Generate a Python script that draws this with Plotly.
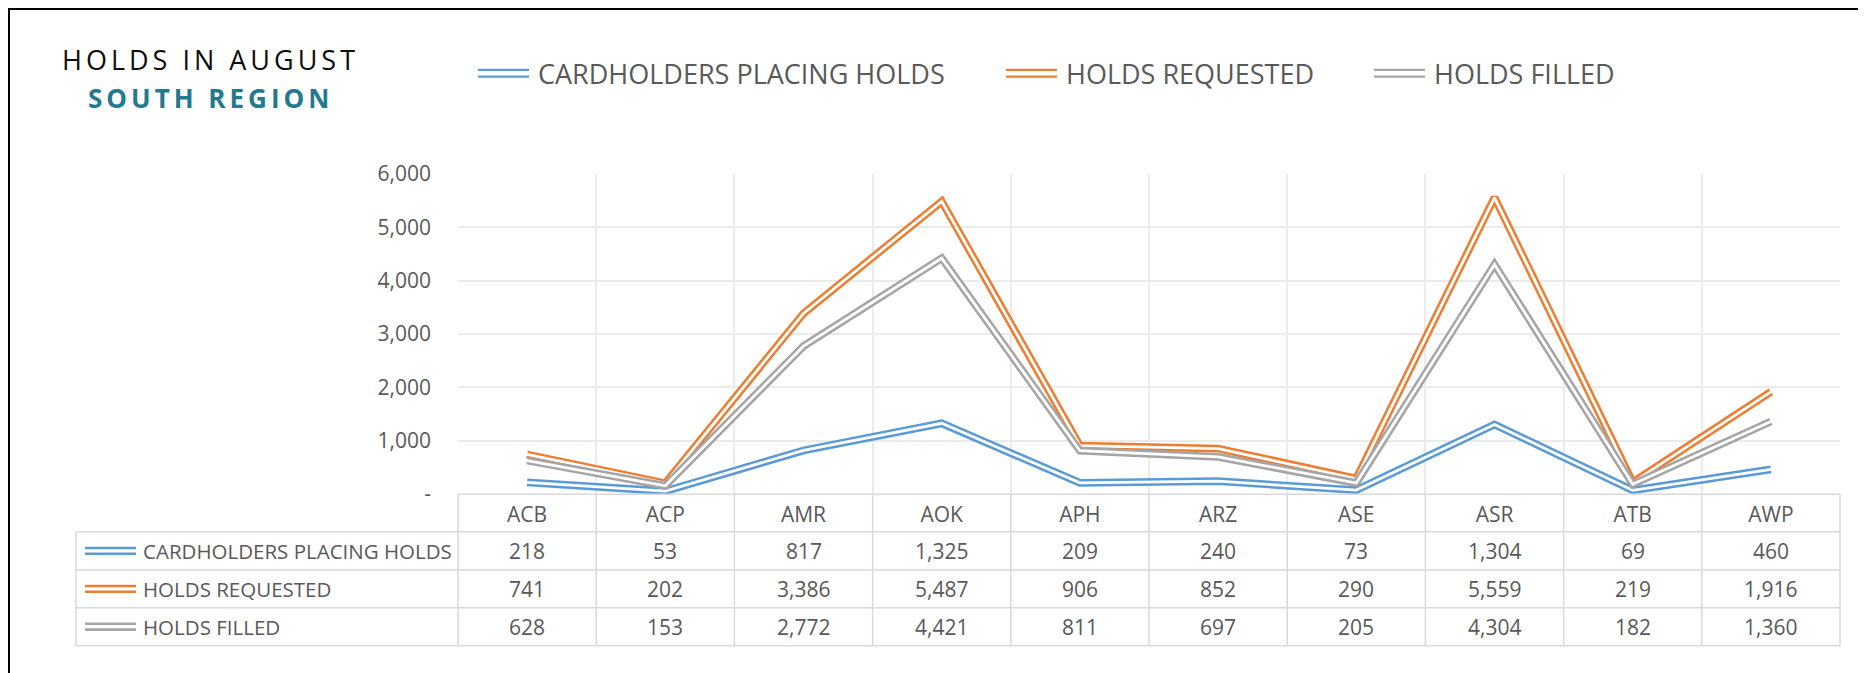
import plotly.graph_objects as go

# ---------------- data ----------------
categories = ["ACB", "ACP", "AMR", "AOK", "APH", "ARZ", "ASE", "ASR", "ATB", "AWP"]
series_names = ["CARDHOLDERS PLACING HOLDS", "HOLDS REQUESTED", "HOLDS FILLED"]
cardholders = [218, 53, 817, 1325, 209, 240, 73, 1304, 69, 460]
requested = [741, 202, 3386, 5487, 906, 852, 290, 5559, 219, 1916]
filled = [628, 153, 2772, 4421, 811, 697, 205, 4304, 182, 1360]
y_tick_values = [0, 1000, 2000, 3000, 4000, 5000, 6000]
y_tick_labels = ["-", "1,000", "2,000", "3,000", "4,000", "5,000", "6,000"]
title_line1 = "HOLDS IN AUGUST"
title_line2 = "SOUTH REGION"

series_values = [cardholders, requested, filled]
series_colors = ["#5B9BD5", "#ED7D31", "#A5A5A5"]

# ---------------- geometry ----------------
# the page body has an 8px default margin: figure origin sits at screen (8, 8)
OFF = 8
W, H = 1858, 665
L, T = 458 - OFF, 174 - OFF
PW, PH = 1382, 320
R = W - L - PW
B = H - T - PH
FONT = "Open Sans"
TXT = "#595959"
TABLE_LINE = "#D9D9D9"


def px(xs):
    """screen x -> paper x"""
    return (xs - OFF - L) / PW


def py(ys):
    """screen y -> paper y"""
    return (H - B - (ys - OFF)) / PH


fig = go.Figure()

# double lines: thick coloured line with thin white core
for name, vals, col in zip(series_names, series_values, series_colors):
    fig.add_trace(go.Scatter(x=categories, y=vals, mode="lines", name=name,
                             line=dict(color=col, width=7.8), showlegend=False,
                             hoverinfo="skip"))
    fig.add_trace(go.Scatter(x=categories, y=vals, mode="lines", name=name,
                             line=dict(color="white", width=2.8), showlegend=False,
                             hovertemplate="%{x}: %{y:,}<extra>" + name + "</extra>"))

shapes = []
annotations = []

# outer frame (top/left/right)
shapes.append(dict(type="rect", xref="paper", yref="paper",
                   x0=px(OFF + 1), x1=px(1864), y0=py(OFF + 1), y1=py(700),
                   line=dict(color="black", width=2), fillcolor="rgba(0,0,0,0)", layer="below"))

# title
annotations.append(dict(xref="paper", yref="paper", x=px(210), y=py(59),
                        xanchor="center", yanchor="middle", showarrow=False,
                        text='<span style="letter-spacing:4px">' + title_line1 + '</span>',
                        font=dict(family=FONT, size=27, color="#0D0D0D")))
annotations.append(dict(xref="paper", yref="paper", x=px(210), y=py(98),
                        xanchor="center", yanchor="middle", showarrow=False,
                        text='<span style="letter-spacing:4px"><b>' + title_line2 + '</b></span>',
                        font=dict(family=FONT, size=26, color="#23798E")))


def legend_key(x0, x1, yc, col, outer, inner):
    shapes.append(dict(type="line", xref="paper", yref="paper", x0=px(x0), x1=px(x1),
                       y0=py(yc), y1=py(yc), line=dict(color=col, width=outer)))
    shapes.append(dict(type="line", xref="paper", yref="paper", x0=px(x0), x1=px(x1),
                       y0=py(yc), y1=py(yc), line=dict(color="white", width=inner)))


# top legend
leg_keys = [(478, 529, 536), (1006, 1057, 1064), (1374, 1425, 1432)]
for (k0, k1, tx), name, col in zip(leg_keys, series_names, series_colors):
    legend_key(k0, k1, 73.3, col, 9, 4.4)
    annotations.append(dict(xref="paper", yref="paper", x=px(tx), y=py(73.3),
                            xanchor="left", yanchor="middle", showarrow=False,
                            text=name, font=dict(family=FONT, size=27, color=TXT)))

# data table
row_lines = [531.7, 570, 607.7, 645.7]
row_centers = [(row_lines[i] + row_lines[i + 1]) / 2 for i in range(3)]
tbl_left = 76
axis_y = 494.3
shapes.append(dict(type="line", xref="paper", yref="paper", x0=0, x1=1,
                   y0=py(axis_y), y1=py(axis_y), line=dict(color=TABLE_LINE, width=1.5)))
for yl in row_lines:
    shapes.append(dict(type="line", xref="paper", yref="paper", x0=px(tbl_left), x1=1,
                       y0=py(yl), y1=py(yl), line=dict(color=TABLE_LINE, width=1.5)))
n = len(categories)
for k in range(n + 1):
    shapes.append(dict(type="line", xref="paper", yref="paper", x0=k / n, x1=k / n,
                       y0=py(axis_y), y1=py(row_lines[-1]), line=dict(color=TABLE_LINE, width=1.5)))
shapes.append(dict(type="line", xref="paper", yref="paper", x0=px(tbl_left), x1=px(tbl_left),
                   y0=py(row_lines[0]), y1=py(row_lines[-1]), line=dict(color=TABLE_LINE, width=1.5)))

for rc, name, vals, col in zip(row_centers, series_names, series_values, series_colors):
    legend_key(85, 136, rc, col, 8.4, 3.2)
    annotations.append(dict(xref="paper", yref="paper", x=px(141), y=py(rc),
                            xanchor="left", yanchor="middle", showarrow=False,
                            text=name, font=dict(family=FONT, size=20.5, color=TXT)))
    for c, v in zip(categories, vals):
        annotations.append(dict(xref="x", yref="paper", x=c, y=py(rc),
                                xanchor="center", yanchor="middle", showarrow=False,
                                text=f"{v:,}", font=dict(family=FONT, size=21, color=TXT)))

fig.update_layout(
    width=W, height=H,
    margin=dict(l=L, r=R, t=T, b=B, autoexpand=False),
    paper_bgcolor="white", plot_bgcolor="white",
    shapes=shapes, annotations=annotations,
    showlegend=False,
    font=dict(family=FONT, color=TXT),
    xaxis=dict(type="category", categoryorder="array", categoryarray=categories,
               range=[-0.5, len(categories) - 0.5], tickson="boundaries",
               showgrid=True, gridcolor="#EBEBEB", gridwidth=1.5,
               showline=False, zeroline=False, ticks="",
               tickfont=dict(family=FONT, size=21, color=TXT),
               ticklabelstandoff=6, fixedrange=True),
    yaxis=dict(range=[0, 6000], tickvals=y_tick_values, ticktext=y_tick_labels,
               showgrid=True, gridcolor="#EBEBEB", gridwidth=1.5,
               zeroline=False, showline=False, ticks="",
               tickfont=dict(family=FONT, size=21, color=TXT),
               ticklabelstandoff=26, fixedrange=True),
)

fig.write_html("out.html")
